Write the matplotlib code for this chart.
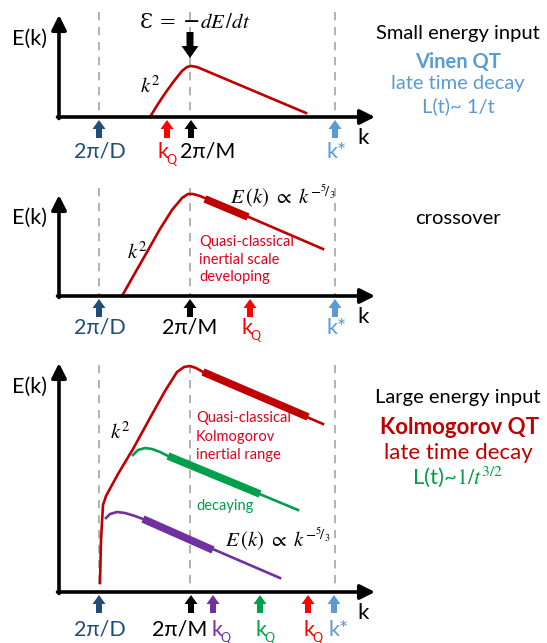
import matplotlib
matplotlib.use("Agg")
import matplotlib.pyplot as plt

plt.rcParams["font.family"] = ["Lato", "DejaVu Sans"]
plt.rcParams["mathtext.fontset"] = "stix"

# ------------------------------------------------------------------
# colours
# ------------------------------------------------------------------
DARK_BLUE = "#1F4E79"
LIGHT_BLUE = "#5B9BD5"
BRIGHT_RED = "#FF0000"
CURVE_RED = "#C00000"
TEXT_RED = "#E3001B"
GREEN = "#00A04A"
PURPLE = "#7030A0"
GREY = "#A6A6A6"

# ------------------------------------------------------------------
# data (sketch units = pixels of the 547x643 canvas, y down)
# ------------------------------------------------------------------
AXIS_Y = [117, 296, 592]
AXIS_TOP = [15, 195, 363]
DASH_TOP = [12, 188, 365]
AXIS_X0, AXIS_X1 = 59, 375
DASH_X = [99, 190, 335]
ELABEL_Y = [39, 218, 387]

# panel 1 - small energy input
p1_x = [150, 158, 166, 174, 182, 187, 191, 197, 306]
p1_y = [117, 104, 92, 81, 71, 67, 66, 67, 113]

# panel 2 - crossover
p2_x = [122, 135, 147, 160, 172, 182, 188, 193, 200, 323]
p2_y = [296, 273, 252, 229, 210, 198, 194, 194, 196, 249]
p2_thick_x = [205, 248]
p2_thick_y = [199, 217]

# panel 3 - large energy input
p3_red_x = [100, 101, 103, 106, 118, 133, 150, 165, 177, 184, 190, 196, 203, 323]
p3_red_y = [583, 540, 505, 496, 474, 449, 418, 391, 372, 367, 366, 368, 372, 424]
p3_red_thick_x = [203, 308]
p3_red_thick_y = [372, 417]

p3_green_x = [133, 138, 145, 152, 160, 168, 298]
p3_green_y = [455, 450, 448, 449, 452, 456, 510]
p3_green_thick_x = [168, 260]
p3_green_thick_y = [456, 494]

p3_purple_x = [106, 110, 117, 125, 135, 143, 280]
p3_purple_y = [518, 514, 512, 513, 516, 519, 578]
p3_purple_thick_x = [143, 213]
p3_purple_thick_y = [519, 550]

# k-axis markers: (x, colour), label text and label x
p1_marks = [(99, DARK_BLUE), (167, BRIGHT_RED), (191, "black"), (335, LIGHT_BLUE)]
p1_labels = [("2π/D", 100, DARK_BLUE), ("kQ", 166, BRIGHT_RED),
             ("2π/M", 208, "black"), ("k*", 337, LIGHT_BLUE)]
p2_marks = [(99, DARK_BLUE), (190, "black"), (250, BRIGHT_RED), (335, LIGHT_BLUE)]
p2_labels = [("2π/D", 100, DARK_BLUE), ("2π/M", 190, "black"),
             ("kQ", 250, BRIGHT_RED), ("k*", 337, LIGHT_BLUE)]
p3_marks = [(99, DARK_BLUE), (191, "black"), (213, PURPLE), (260, GREEN),
            (308, BRIGHT_RED), (334, LIGHT_BLUE)]
p3_labels = [("2π/D", 100, DARK_BLUE), ("2π/M", 180, "black"), ("kQ", 220, PURPLE),
             ("kQ", 264, GREEN), ("kQ", 312, BRIGHT_RED), ("k*", 339, LIGHT_BLUE)]
LABEL_Y = [152, 328, 630]

EQ_53 = r"$E\,(k)\ \propto\ k^{-{}^{5}\!/_{3}}$"

fig = plt.figure(figsize=(5.47, 6.43), dpi=100)
ax = fig.add_axes([0, 0, 1, 1])
ax.set_xlim(0, 547)
ax.set_ylim(643, 0)
ax.axis("off")


def draw_frame(i):
    y0 = AXIS_Y[i]
    for x in DASH_X:
        ax.plot([x, x], [DASH_TOP[i], y0], color=GREY, lw=1.2,
                dashes=(5, 4), zorder=1)
    ax.annotate("", xy=(AXIS_X1, y0), xytext=(AXIS_X0 - 1.5, y0),
                arrowprops=dict(arrowstyle="-|>", lw=2.6, color="black",
                                mutation_scale=22, shrinkA=0, shrinkB=0),
                zorder=3)
    ax.annotate("", xy=(AXIS_X0, AXIS_TOP[i]), xytext=(AXIS_X0, y0 + 1.5),
                arrowprops=dict(arrowstyle="-|>", lw=2.6, color="black",
                                mutation_scale=22, shrinkA=0, shrinkB=0),
                zorder=3)
    ax.text(363, y0 + 21, "k", fontsize=16, ha="center", va="center")
    ax.text(30, ELABEL_Y[i], "E(k)", fontsize=15.5, ha="center", va="center")


def draw_marks(i, marks, labels):
    y0 = AXIS_Y[i]
    for x, c in marks:
        ax.arrow(x, y0 + 21, 0, -18, width=6, head_width=13, head_length=9,
                 length_includes_head=True, color=c, lw=0, zorder=4)
    for txt, x, c in labels:
        if txt == "kQ":
            ax.text(x - 3, LABEL_Y[i], "k", fontsize=15.5, color=c,
                    ha="center", va="center")
            ax.text(x + 5, LABEL_Y[i] + 8, "Q", fontsize=9, color=c,
                    ha="center", va="center")
        else:
            ax.text(x, LABEL_Y[i], txt, fontsize=15.5, color=c,
                    ha="center", va="center")


for i in range(3):
    draw_frame(i)

# ---------------- panel 1 ----------------
ax.plot(p1_x, p1_y, color=CURVE_RED, lw=1.9, zorder=2)
draw_marks(0, p1_marks, p1_labels)
ax.text(150, 86, r"$k^2$", fontsize=15, ha="center", va="center")
ax.text(195, 22, "Ɛ = −$dE\\,/dt$", fontsize=15, ha="center",
        va="center", family=["DejaVu Serif"])
ax.arrow(190, 32, 0, 26, width=7, head_width=17, head_length=12,
         length_includes_head=True, color="black", lw=0, zorder=4)
ax.text(458, 34, "Small energy input", fontsize=14.5, ha="center", va="center")
ax.text(458, 62, "Vinen QT", fontsize=14.5, ha="center", va="center",
        color=LIGHT_BLUE, fontweight="bold")
ax.text(458, 84, "late time decay", fontsize=14.5, ha="center", va="center",
        color=LIGHT_BLUE)
ax.text(458, 106, "L(t)~ 1/t", fontsize=14.5, ha="center", va="center",
        color=LIGHT_BLUE)

# ---------------- panel 2 ----------------
ax.plot(p2_x, p2_y, color=CURVE_RED, lw=1.9, zorder=2, solid_joinstyle="round")
ax.plot(p2_thick_x, p2_thick_y, color=CURVE_RED, lw=5.5, zorder=2,
        solid_capstyle="butt")
draw_marks(1, p2_marks, p2_labels)
ax.text(137, 252, r"$k^2$", fontsize=15, ha="center", va="center")
ax.text(283, 196, EQ_53, fontsize=15, ha="center", va="center")
for yy, line in zip([242, 260, 277],
                    ["Quasi-classical", "inertial scale", "developing"]):
    ax.text(199, yy, line, fontsize=10.5, color=TEXT_RED, ha="left", va="center")
ax.text(458, 218, "crossover", fontsize=14.5, ha="center", va="center")

# ---------------- panel 3 ----------------
ax.plot(p3_red_x, p3_red_y, color=CURVE_RED, lw=1.9, zorder=2)
ax.plot(p3_red_thick_x, p3_red_thick_y, color=CURVE_RED, lw=5.5, zorder=2,
        solid_capstyle="butt")
ax.plot(p3_green_x, p3_green_y, color=GREEN, lw=1.9, zorder=2)
ax.plot(p3_green_thick_x, p3_green_thick_y, color=GREEN, lw=5.5, zorder=2,
        solid_capstyle="butt")
ax.plot(p3_purple_x, p3_purple_y, color=PURPLE, lw=1.9, zorder=2)
ax.plot(p3_purple_thick_x, p3_purple_thick_y, color=PURPLE, lw=5.5, zorder=2,
        solid_capstyle="butt")
draw_marks(2, p3_marks, p3_labels)
ax.text(120, 432, r"$k^2$", fontsize=15, ha="center", va="center")
for yy, line in zip([418, 437, 455],
                    ["Quasi-classical", "Kolmogorov", "inertial range"]):
    ax.text(196, yy, line, fontsize=10.5, color=TEXT_RED, ha="left", va="center")
ax.text(196, 506, "decaying", fontsize=10.5, color=GREEN, ha="left", va="center")
ax.text(278, 539, EQ_53, fontsize=15, ha="center", va="center")
ax.text(458, 398, "Large energy input", fontsize=14.5, ha="center", va="center")
ax.text(460, 427, "Kolmogorov QT", fontsize=16, ha="center", va="center",
        color=CURVE_RED, fontweight="bold")
ax.text(458, 453, "late time decay", fontsize=16, ha="center", va="center",
        color=CURVE_RED)
ax.text(458, 477, r"L(t)~$1/t^{3/2}$", fontsize=16, ha="center", va="center",
        color=GREEN)

fig.savefig("out.png", dpi=100)
